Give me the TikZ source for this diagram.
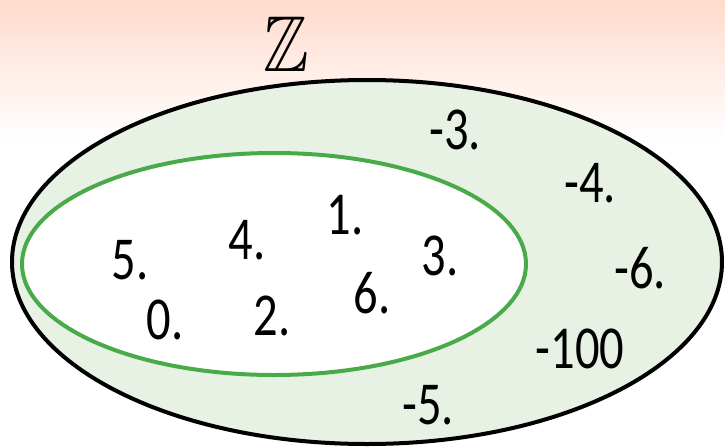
\documentclass[tikz,border=0pt]{standalone}
\usepackage{fontspec}
\usepackage{amssymb}
\usepackage{graphicx}
\setmainfont{Carlito}
\definecolor{peach}{RGB}{255,219,204}
\definecolor{setfill}{RGB}{232,242,228}
\definecolor{setgreen}{RGB}{72,170,72}
\newcommand{\tallnum}[1]{\scalebox{0.97}[1.22]{#1}}
\tikzset{elem/.style={font=\fontsize{25}{30}\selectfont, inner sep=0pt}}

\begin{document}
\begin{tikzpicture}[x=0.5pt,y=-0.5pt]
	\useasboundingbox (0,0) rectangle (725,446);
	% background
	\fill[white] (0,0) rectangle (725,446);
	\shade[top color=peach, bottom color=white] (0,0) rectangle (725,140);
	% sets
	\draw[line width=2pt, fill=setfill] (367,262) ellipse [x radius=355, y radius=182];
	\draw[setgreen, line width=2pt, fill=white] (274,264) ellipse [x radius=252, y radius=111];
	\node[inner sep=0pt] (zz) at (286,44) {\scalebox{0.95}[1.1]{\fontsize{36}{40}\selectfont $\mathbb{Z}$}};
	% outside the green set
	\node[elem] (m3) at (455,130) {\tallnum{-3.}};
	\node[elem] (m4) at (590,183) {\tallnum{-4.}};
	\node[elem] (m6) at (640,268) {\tallnum{-6.}};
	\node[elem] (m100) at (580,349) {\tallnum{-100}};
	\node[elem] (m5) at (428,405) {\tallnum{-5.}};
	% inside the green set
	\node[elem] (p1) at (345,215) {\tallnum{1.}};
	\node[elem] (p4) at (247,240) {\tallnum{4.}};
	\node[elem] (p3) at (440,256) {\tallnum{3.}};
	\node[elem] (p5) at (130,260) {\tallnum{5.}};
	\node[elem] (p6) at (372,293) {\tallnum{6.}};
	\node[elem] (p0) at (165,320) {\tallnum{0.}};
	\node[elem] (p2) at (272,316) {\tallnum{2.}};
\end{tikzpicture}
\end{document}
